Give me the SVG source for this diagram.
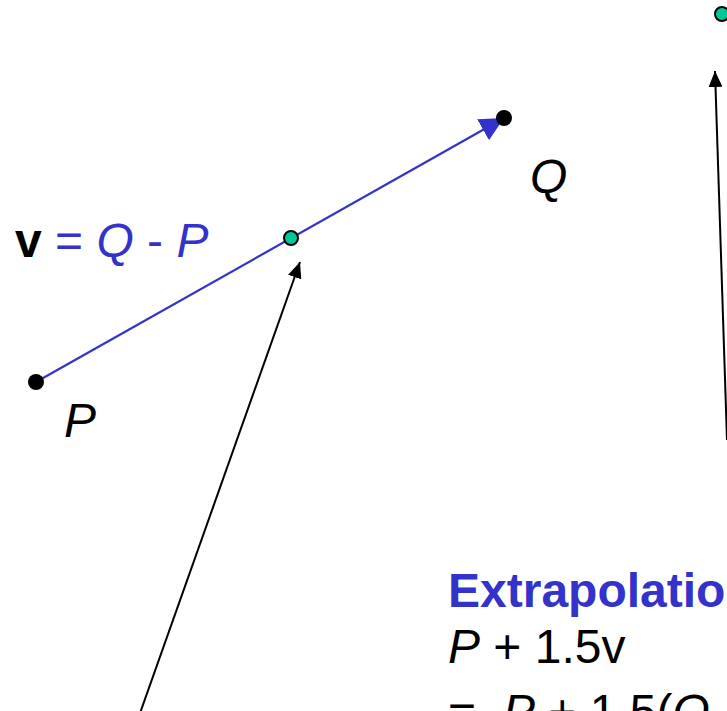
<svg xmlns="http://www.w3.org/2000/svg" width="727" height="711" viewBox="0 0 727 711">
<style>
.t{font-family:"Liberation Sans",Arial,sans-serif;font-size:48px}
.i{font-style:italic}
.b{font-weight:bold}
.blue{fill:#3333cc}
.pt{fill:#000}
.g{fill:#00c896;stroke:#000;stroke-width:2}
</style>
<defs>
<marker id="ab" markerUnits="userSpaceOnUse" markerWidth="26" markerHeight="24" refX="24" refY="12" orient="auto"><path d="M0,0 L24,12 L0,24 Z" fill="#3333cc"/></marker>
<marker id="ak" markerUnits="userSpaceOnUse" markerWidth="16" markerHeight="14" refX="16" refY="7" orient="auto"><path d="M0,0 L16,7 L0,14 Z" fill="#000"/></marker>
</defs>
<rect width="727" height="711" fill="#fff"/>
<g id="connectors">
<line x1="36" y1="382" x2="504" y2="118" stroke="#3333cc" stroke-width="2.2" marker-end="url(#ab)"/>
<line x1="139" y1="716" x2="300" y2="262" stroke="#000" stroke-width="2" marker-end="url(#ak)"/>
<line x1="727" y1="440" x2="715" y2="71" stroke="#000" stroke-width="2" marker-end="url(#ak)"/>
</g>
<g id="P"><circle cx="36" cy="382" r="8" class="pt"/><text x="64" y="437" class="t i">P</text></g>
<g id="Q"><circle cx="504" cy="118" r="8" class="pt"/><text x="530" y="193" class="t i">Q</text></g>
<g id="mid"><circle cx="291" cy="238" r="7" class="g"/></g>
<g id="extra"><circle cx="722" cy="14" r="7" class="g"/></g>
<g id="vlabel"><text x="15" y="257" class="t"><tspan class="b">v</tspan><tspan class="blue"> = </tspan><tspan class="blue i">Q</tspan><tspan class="blue"> - </tspan><tspan class="blue i">P</tspan></text></g>
<g id="extrap">
<text x="448" y="607" class="t b blue">Extrapolatio</text>
<text x="448" y="663" class="t"><tspan class="i">P</tspan> + 1.5v</text>
<text x="448" y="728" class="t">=<tspan x="503" class="i">P</tspan> + 1.5(<tspan class="i">Q</tspan> -</text>
</g>
</svg>
